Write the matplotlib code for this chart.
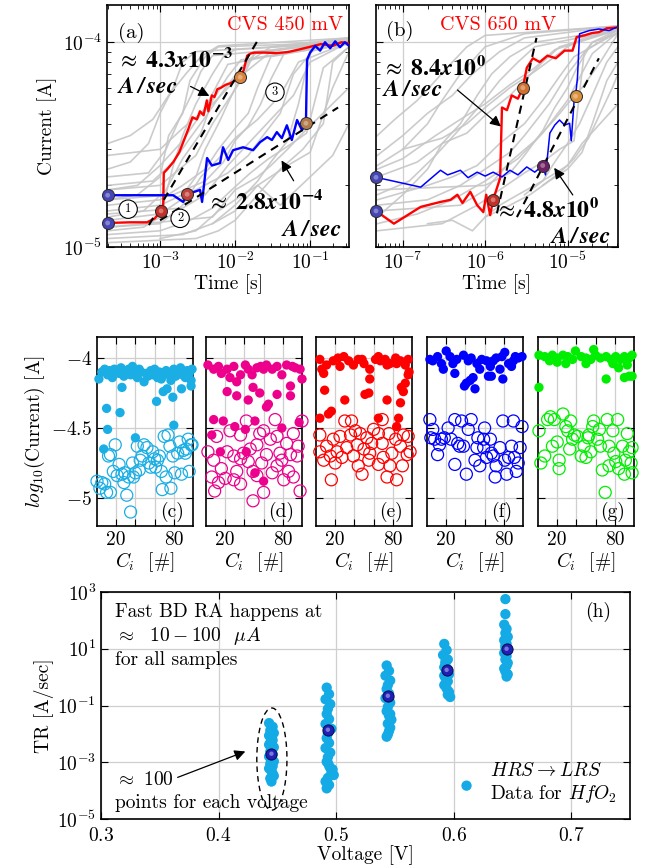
import matplotlib
matplotlib.use('Agg')
import matplotlib.pyplot as plt
from matplotlib.patches import Ellipse
import numpy as np

plt.rcParams['font.family'] = ['cmr10', 'DejaVu Serif']
plt.rcParams['mathtext.fontset'] = 'cm'
plt.rcParams['axes.formatter.use_mathtext'] = True
plt.rcParams['axes.unicode_minus'] = False
plt.rcParams['axes.linewidth'] = 1.2

# ---------------- data: panel (a) CVS 450 mV ----------------
red_a_t = [2e-4, 4e-4, 6.7e-4, 8.5e-4, 1.03e-3, 1.1e-3, 1.12e-3, 1.25e-3, 1.5e-3, 1.8e-3, 2.0e-3, 2.4e-3,
           2.7e-3, 3.1e-3, 3.4e-3, 3.8e-3, 4.2e-3, 4.4e-3, 4.9e-3, 5.3e-3, 5.8e-3, 6.5e-3, 7.5e-3, 8.6e-3,
           1.0e-2, 1.17e-2, 1.3e-2, 1.45e-2, 1.6e-2, 1.8e-2, 2.5e-2, 3.5e-2, 5e-2, 7e-2, 0.1, 0.14, 0.2, 0.26, 0.33]
red_a_i = [1.31e-5, 1.32e-5, 1.32e-5, 1.38e-5, 1.5e-5, 1.6e-5, 2.3e-5, 2.4e-5, 2.6e-5, 2.9e-5, 3.2e-5, 3.8e-5,
           4.3e-5, 4.2e-5, 4.6e-5, 4.4e-5, 5.2e-5, 4.6e-5, 5.5e-5, 5.4e-5, 5.9e-5, 6.0e-5, 6.2e-5, 6.3e-5,
           6.5e-5, 6.75e-5, 7.3e-5, 8.6e-5, 8.8e-5, 8.9e-5, 8.9e-5, 8.85e-5, 8.95e-5, 9.2e-5, 9.5e-5, 9.8e-5,
           9.6e-5, 1.0e-4, 9.9e-5]
blue_a_t = [2e-4, 1.49e-3, 2.03e-3, 2.29e-3, 3.41e-3, 3.63e-3, 4.23e-3, 4.9e-3, 6.3e-3, 6.9e-3, 8.1e-3, 9.4e-3,
            1.28e-2, 1.74e-2, 2.15e-2, 2.68e-2, 3.1e-2, 3.6e-2, 4.2e-2, 4.9e-2, 5.7e-2, 6.7e-2, 7.8e-2, 8.8e-2,
            9.1e-2, 0.1, 0.117, 0.136, 0.158, 0.185, 0.216, 0.25, 0.29, 0.33]
blue_a_i = [1.79e-5, 1.79e-5, 1.66e-5, 1.81e-5, 1.9e-5, 1.66e-5, 2.72e-5, 2.5e-5, 2.57e-5, 3.07e-5, 2.66e-5, 2.97e-5,
            3.07e-5, 2.97e-5, 3.25e-5, 3.44e-5, 3.33e-5, 3.64e-5, 3.4e-5, 3.93e-5, 3.33e-5, 4.17e-5, 3.72e-5, 4.02e-5,
            8.2e-5, 8.9e-5, 9.6e-5, 9.1e-5, 1.0e-4, 9.35e-5, 1.01e-4, 9.45e-5, 1.0e-4, 9.6e-5]
gray_a_t = [
    [2e-4, 6e-4, 1e-3, 1.5e-3, 2e-3, 3e-3, 5e-3, 7e-3, 1e-2, 0.33],
    [2e-4, 1e-3, 2e-3, 3e-3, 4e-3, 6e-3, 9e-3, 1.5e-2, 3e-2, 0.33],
    [2e-4, 5e-4, 1e-3, 1.3e-3, 2e-3, 2.5e-3, 4e-3, 6e-3, 0.33],
    [2e-4, 2e-3, 5e-3, 1e-2, 2e-2, 3e-2, 5e-2, 7e-2, 0.1, 0.33],
    [2e-4, 1e-3, 3e-3, 8e-3, 1.5e-2, 2.5e-2, 4e-2, 6e-2, 0.12, 0.33],
    [2e-4, 8e-4, 1.5e-3, 2.5e-3, 4e-3, 7e-3, 1.2e-2, 2e-2, 0.33],
    [2e-4, 3e-3, 6e-3, 1e-2, 2e-2, 4e-2, 8e-2, 0.15, 0.2, 0.33],
    [2e-4, 4e-4, 7e-4, 1e-3, 1.5e-3, 2e-3, 3e-3, 0.33],
    [2e-4, 1e-3, 2e-3, 4e-3, 6e-3, 1e-2, 1.5e-2, 2e-2, 3e-2, 0.33],
    [2e-4, 5e-3, 1e-2, 2e-2, 3e-2, 5e-2, 8e-2, 0.33],
    [2e-4, 1e-3, 3e-3, 5e-3, 8e-3, 1.2e-2, 1.8e-2, 0.33],
    [2e-4, 2e-3, 4e-3, 8e-3, 1.5e-2, 3e-2, 6e-2, 0.1, 0.33],
    [5e-3, 1e-2, 2e-2, 4e-2, 0.1, 0.2, 0.33],
    [2e-4, 1e-3, 2e-3, 5e-3, 1e-2, 0.03, 0.33],
    [2e-4, 6e-4, 1.2e-3, 2e-3, 3.5e-3, 5e-3, 8e-3, 1.2e-2, 0.33],
    [2e-4, 1.5e-3, 4e-3, 7e-3, 1e-2, 1.5e-2, 2.2e-2, 3e-2, 4.5e-2, 0.33],
    [2e-4, 7e-4, 1.2e-3, 1.8e-3, 2.6e-3, 3.5e-3, 5e-3, 0.33],
    [2e-4, 1e-3, 2.5e-3, 5e-3, 9e-3, 1.6e-2, 2.8e-2, 5e-2, 9e-2, 0.15, 0.33],
    [2e-4, 4e-4, 8e-4, 1.3e-3, 2.2e-3, 3.5e-3, 6e-3, 0.33],
    [2e-4, 1e-3, 2e-3, 3.5e-3, 6e-3, 1e-2, 2e-2, 4e-2, 7e-2, 0.33],
    [1e-3, 3e-3, 6e-3, 1e-2, 2e-2, 5e-2, 0.1, 0.2, 0.33],
    [2e-4, 5e-4, 1e-3, 2e-3, 4e-3, 8e-3, 0.33],
]
gray_a_i = [
    [1.2e-5, 1.25e-5, 1.4e-5, 2.5e-5, 3.5e-5, 5e-5, 7e-5, 8.5e-5, 9.2e-5, 1.0e-4],
    [1.5e-5, 1.6e-5, 1.8e-5, 2.2e-5, 3e-5, 4e-5, 5.5e-5, 8e-5, 9.5e-5, 1.05e-4],
    [1.7e-5, 1.8e-5, 2.2e-5, 3.5e-5, 4.5e-5, 6.5e-5, 8.5e-5, 9.5e-5, 1.0e-4],
    [1.1e-5, 1.15e-5, 1.3e-5, 1.6e-5, 2.1e-5, 2.6e-5, 3.3e-5, 5e-5, 9e-5, 1e-4],
    [1.35e-5, 1.45e-5, 1.9e-5, 2.3e-5, 2.8e-5, 3.6e-5, 4.5e-5, 7e-5, 9.5e-5, 1.02e-4],
    [2.0e-5, 2.1e-5, 2.6e-5, 3.4e-5, 4.3e-5, 5.8e-5, 7.5e-5, 9e-5, 1.02e-4],
    [1.05e-5, 1.1e-5, 1.2e-5, 1.35e-5, 1.8e-5, 2.4e-5, 3e-5, 4e-5, 8e-5, 9.5e-5],
    [2.4e-5, 2.6e-5, 3.2e-5, 4.5e-5, 6e-5, 8e-5, 9e-5, 1.0e-4],
    [1.6e-5, 1.7e-5, 2e-5, 2.4e-5, 3e-5, 3.8e-5, 4.5e-5, 6e-5, 8.5e-5, 1e-4],
    [1.25e-5, 1.4e-5, 1.9e-5, 2.2e-5, 2.5e-5, 3e-5, 3.6e-5, 6e-5],
    [1.9e-5, 2.0e-5, 2.8e-5, 4e-5, 5.2e-5, 6.5e-5, 8.8e-5, 1.04e-4],
    [1.45e-5, 1.55e-5, 1.8e-5, 2.5e-5, 3.2e-5, 4.2e-5, 5.5e-5, 8e-5, 1.0e-4],
    [1.3e-5, 1.5e-5, 2e-5, 1.6e-5, 2.2e-5, 2.8e-5, 4e-5],
    [2.8e-5, 3.0e-5, 3.8e-5, 5e-5, 6.5e-5, 9e-5, 1.05e-4],
    [1.4e-5, 1.5e-5, 1.9e-5, 2.7e-5, 3.6e-5, 5.2e-5, 6.8e-5, 8.2e-5, 9.8e-5],
    [1.7e-5, 1.8e-5, 2.1e-5, 2.6e-5, 3.3e-5, 3.9e-5, 5e-5, 6.6e-5, 8.8e-5, 1.03e-4],
    [2.2e-5, 2.3e-5, 3e-5, 4.2e-5, 5.5e-5, 7.2e-5, 8.6e-5, 9.9e-5],
    [1.15e-5, 1.2e-5, 1.35e-5, 1.55e-5, 1.9e-5, 2.3e-5, 2.7e-5, 3.1e-5, 3.6e-5, 7.5e-5, 9.5e-5],
    [3.2e-5, 3.5e-5, 4.2e-5, 5.5e-5, 7e-5, 8.5e-5, 9.6e-5, 1.05e-4],
    [1.25e-5, 1.3e-5, 1.6e-5, 2.2e-5, 2.7e-5, 3.4e-5, 4.2e-5, 5.5e-5, 8e-5, 1.0e-4],
    [1.1e-5, 1.2e-5, 1.5e-5, 1.7e-5, 2.0e-5, 2.5e-5, 2.9e-5, 6e-5, 9e-5],
    [1.9e-5, 2.0e-5, 2.5e-5, 3.3e-5, 4.8e-5, 7.8e-5, 1.02e-4],
]
dash_a1_t = [7.1e-4, 2.0e-2]
dash_a1_i = [1.28e-5, 1.02e-4]
dash_a2_t = [1.0e-3, 0.236]
dash_a2_i = [1.35e-5, 4.8e-5]
sph_a_t = [2e-4, 2e-4, 1.03e-3, 2.29e-3, 1.17e-2, 8.8e-2]
sph_a_i = [1.31e-5, 1.79e-5, 1.5e-5, 1.81e-5, 6.75e-5, 4.02e-5]
sph_a_c = ['#4545b5', '#4545b5', '#c23028', '#c0413a', '#d9843c', '#b27a4a']

# ---------------- data: panel (b) CVS 650 mV ----------------
red_b_t = [4.73e-8, 7.8e-8, 1.65e-7, 2.87e-7, 3.8e-7, 4.6e-7, 5.3e-7, 6.6e-7, 8.0e-7, 9.5e-7, 1.03e-6, 1.15e-6,
           1.25e-6, 1.52e-6, 1.6e-6, 1.84e-6, 2.1e-6, 2.5e-6, 2.87e-6, 3.2e-6, 3.8e-6, 4.6e-6, 5.7e-6, 7.2e-6,
           9.2e-6, 1.15e-5, 1.29e-5, 1.6e-5, 2.0e-5, 2.4e-5, 3.0e-5, 3.9e-5]
red_b_i = [1.5e-5, 1.3e-5, 1.57e-5, 1.66e-5, 1.7e-5, 1.8e-5, 1.64e-5, 1.86e-5, 1.6e-5, 1.48e-5, 1.8e-5, 1.43e-5,
           1.7e-5, 2.17e-5, 4.8e-5, 4.66e-5, 5.5e-5, 5.3e-5, 6.0e-5, 7.5e-5, 8.35e-5, 8.0e-5, 8.6e-5, 8.35e-5,
           9.1e-5, 9.1e-5, 1.06e-4, 1.08e-4, 1.11e-4, 1.12e-4, 1.17e-4, 1.18e-4]
blue_b_t = [4.73e-8, 1.65e-7, 2.87e-7, 3.5e-7, 4.1e-7, 5.0e-7, 6.2e-7, 8.0e-7, 1e-6, 1.25e-6, 1.6e-6, 2.0e-6,
            2.5e-6, 3.2e-6, 4.0e-6, 5.0e-6, 5.4e-6, 5.7e-6, 6.1e-6, 7.0e-6, 8.0e-6, 9.2e-6, 1.06e-5, 1.11e-5,
            1.21e-5, 1.25e-5, 1.32e-5, 1.4e-5, 1.84e-5, 2.4e-5, 3.2e-5, 3.9e-5]
blue_b_i = [2.19e-5, 1.96e-5, 2.37e-5, 2.25e-5, 2.3e-5, 2.37e-5, 2.18e-5, 2.32e-5, 2.22e-5, 2.32e-5, 2.2e-5, 2.37e-5,
            2.25e-5, 2.46e-5, 2.32e-5, 2.5e-5, 2.25e-5, 2.75e-5, 3.6e-5, 3.94e-5, 4.17e-5, 3.94e-5, 4.02e-5, 3.3e-5,
            5.4e-5, 5.45e-5, 6.7e-5, 1.1e-4, 1.14e-4, 1.16e-4, 1.14e-4, 1.18e-4]
gray_b_t = [
    [4.9e-8, 1e-7, 2e-7, 3e-7, 5e-7, 8e-7, 1.2e-6, 2e-6, 4e-6, 4.1e-5],
    [4.9e-8, 1.5e-7, 3e-7, 6e-7, 1e-6, 2e-6, 3e-6, 5e-6, 8e-6, 4.1e-5],
    [4.9e-8, 2e-7, 5e-7, 1e-6, 2e-6, 3e-6, 6e-6, 1e-5, 2e-5, 4.1e-5],
    [4.9e-8, 3e-7, 8e-7, 1.5e-6, 3e-6, 5e-6, 8e-6, 1.2e-5, 1.6e-5, 4.1e-5],
    [4.9e-8, 1e-7, 2e-7, 4e-7, 7e-7, 1.5e-6, 3e-6, 4.1e-5],
    [4.9e-8, 5e-7, 1e-6, 2e-6, 4e-6, 7e-6, 1e-5, 1.5e-5, 2.5e-5, 4.1e-5],
    [2e-7, 4e-7, 7e-7, 1e-6, 1.5e-6, 2.5e-6, 4e-6, 6e-6, 1e-5, 1.5e-5, 4.1e-5],
    [4.9e-8, 1e-6, 2e-6, 3e-6, 5e-6, 7e-6, 1e-5, 1.3e-5, 2e-5, 4.1e-5],
    [1e-7, 3e-7, 6e-7, 1e-6, 2e-6, 4e-6, 7e-6, 1e-5, 1.6e-5, 4.1e-5],
    [5e-6, 8e-6, 1.2e-5, 1.8e-5, 2.5e-5, 3.5e-5, 4.1e-5],
    [4.9e-8, 1.2e-7, 2.5e-7, 5e-7, 9e-7, 1.5e-6, 2.5e-6, 4e-6, 4.1e-5],
    [4.9e-8, 1e-7, 2e-7, 3e-7, 5e-7, 1e-6, 3e-6, 4.1e-5],
    [4.9e-8, 8e-8, 1.5e-7, 2.5e-7, 4e-7, 6e-7, 1e-6, 4.1e-5],
    [4.9e-8, 2e-7, 4e-7, 8e-7, 1.5e-6, 3e-6, 5e-6, 8e-6, 1.2e-5, 4.1e-5],
    [1e-6, 2e-6, 3.5e-6, 6e-6, 1e-5, 1.5e-5, 2e-5, 3e-5, 4.1e-5],
    [4.9e-8, 1e-7, 2.5e-7, 5e-7, 1e-6, 2e-6, 4e-6, 7e-6, 4.1e-5],
    [3e-6, 5e-6, 7e-6, 1e-5, 1.4e-5, 2e-5, 3e-5, 4.1e-5],
    [4.9e-8, 1.5e-7, 4e-7, 1e-6, 2.5e-6, 5e-6, 1e-5, 2e-5, 4.1e-5],
]
gray_b_i = [
    [1.4e-5, 1.8e-5, 2.4e-5, 3.2e-5, 4e-5, 5.5e-5, 7e-5, 8.5e-5, 1e-4, 1.15e-4],
    [2.2e-5, 2.6e-5, 3.2e-5, 3.6e-5, 4.4e-5, 5.5e-5, 6.5e-5, 8e-5, 9.5e-5, 1.15e-4],
    [1.6e-5, 1.7e-5, 2e-5, 2.4e-5, 2.9e-5, 3.5e-5, 5e-5, 7e-5, 1e-4, 1.1e-4],
    [1.2e-5, 1.3e-5, 1.6e-5, 1.9e-5, 2.3e-5, 2.6e-5, 3e-5, 3.3e-5, 9e-5, 1.15e-4],
    [2.8e-5, 3.5e-5, 4.5e-5, 5.5e-5, 7e-5, 9e-5, 1.05e-4, 1.2e-4],
    [1.5e-5, 1.6e-5, 1.9e-5, 2.6e-5, 3.3e-5, 4.2e-5, 5e-5, 6e-5, 8e-5, 1.1e-4],
    [1.3e-5, 1.35e-5, 1.2e-5, 1.4e-5, 1.6e-5, 1.8e-5, 2e-5, 2.2e-5, 2.5e-5, 3.2e-5, 5e-5],
    [1.9e-5, 2.0e-5, 2.3e-5, 2.8e-5, 3.7e-5, 4.8e-5, 6e-5, 7.5e-5, 1.0e-4, 1.15e-4],
    [3e-5, 3.4e-5, 4e-5, 4.8e-5, 6e-5, 7.2e-5, 8.5e-5, 9.5e-5, 1.05e-4, 1.15e-4],
    [2e-5, 2.3e-5, 2.7e-5, 3.4e-5, 4.5e-5, 6e-5, 7e-5],
    [1.8e-5, 2.1e-5, 2.8e-5, 3.8e-5, 5e-5, 6.5e-5, 8e-5, 9.5e-5, 1.15e-4],
    [2.5e-5, 3e-5, 4e-5, 5.2e-5, 7e-5, 9.5e-5, 1.1e-4, 1.2e-4],
    [3.5e-5, 4.2e-5, 5.2e-5, 6.5e-5, 8e-5, 9.5e-5, 1.08e-4, 1.2e-4],
    [1.7e-5, 2.0e-5, 2.2e-5, 2.5e-5, 3.2e-5, 4e-5, 5.2e-5, 6.8e-5, 8.5e-5, 1.12e-4],
    [1.4e-5, 1.6e-5, 1.8e-5, 2.1e-5, 2.4e-5, 2.9e-5, 4e-5, 6.5e-5, 8e-5],
    [2.4e-5, 2.7e-5, 3.5e-5, 4.2e-5, 5e-5, 6.2e-5, 7.5e-5, 9.2e-5, 1.15e-4],
    [1.8e-5, 2.1e-5, 2.6e-5, 3.2e-5, 4e-5, 5.5e-5, 8e-5, 9.5e-5],
    [1.3e-5, 1.45e-5, 1.7e-5, 2.1e-5, 2.7e-5, 3.6e-5, 5.2e-5, 8.8e-5, 1.12e-4],
]
dash_b1_t = [1.39e-6, 4.2e-6]
dash_b1_i = [1.46e-5, 1.05e-4]
dash_b2_t = [2.43e-6, 2.4e-5]
dash_b2_i = [1.4e-5, 8.35e-5]
sph_b_t = [4.73e-8, 4.73e-8, 1.25e-6, 2.87e-6, 5.0e-6, 1.25e-5]
sph_b_i = [1.5e-5, 2.19e-5, 1.7e-5, 6.0e-5, 2.5e-5, 5.45e-5]
sph_b_c = ['#4545b5', '#4545b5', '#c23028', '#d0702e', '#6e2263', '#d9903c']

# ---------------- data: panels (c)-(g) ----------------
c_fill_x = [2, 5, 8, 11, 13, 16, 18, 21, 23, 25, 28, 30, 33, 35, 37, 39, 42, 44, 46, 49, 51, 53, 56, 58, 60,
            63, 65, 67, 70, 72, 75, 77, 80, 82, 85, 87, 89, 92, 94, 96, 98, 99,
            10, 11, 7, 24, 26, 40, 62, 69, 73, 79, 80, 88, 98]
c_fill_y = [-4.15, -4.10, -4.08, -4.12, -4.09, -4.14, -4.08, -4.10, -4.11, -4.07, -4.13, -4.09, -4.08, -4.12,
            -4.06, -4.10, -4.14, -4.08, -4.10, -4.17, -4.11, -4.13, -4.09, -4.12, -4.08, -4.14, -4.10, -4.15,
            -4.12, -4.09, -4.11, -4.16, -4.08, -4.13, -4.10, -4.07, -4.12, -4.14, -4.09, -4.11, -4.16, -4.08,
            -4.36, -4.51, -4.65, -4.39, -4.21, -4.57, -4.31, -4.24, -4.22, -4.28, -4.48, -4.22, -4.20]
c_open_x = [0, 5, 10, 14, 8, 17, 19, 14, 23, 26, 28, 29, 31, 35, 37, 40, 42, 45, 49, 54, 58, 60, 63, 67, 68,
            70, 74, 76, 77, 81, 84, 88, 90, 93, 95, 96, 98, 3, 12, 21, 33, 47, 52, 56, 65, 72, 79, 86, 92, 99,
            44, 38, 61]
c_open_y = [-4.88, -4.89, -4.96, -4.96, -4.90, -4.81, -4.62, -4.69, -4.76, -4.83, -4.89, -4.82, -4.98, -5.10,
            -4.75, -4.82, -4.63, -4.73, -4.62, -4.75, -4.67, -4.72, -4.73, -4.81, -4.94, -4.56, -4.55, -4.63,
            -4.93, -4.82, -4.68, -4.83, -4.66, -4.65, -4.58, -4.81, -4.62, -4.93, -4.70, -4.84, -4.85, -4.70,
            -4.64, -4.78, -4.70, -4.85, -4.70, -4.60, -4.68, -4.62, -4.80, -4.85, -4.78]

d_fill_x = [2, 8, 13, 16, 22, 25, 29, 32, 36, 41, 44, 48, 53, 57, 60, 63, 69, 74, 79, 84, 90, 93, 98, 100,
            22, 32, 44, 49, 56, 63, 65, 74, 88, 88, 8, 18, 30, 41, 51, 79, 97, 6, 15, 42, 51, 60]
d_fill_y = [-4.05, -4.08, -4.06, -4.11, -4.08, -4.14, -4.06, -4.17, -4.12, -4.05, -4.08, -4.12, -4.07, -4.06,
            -4.08, -4.05, -4.08, -4.06, -4.12, -4.05, -4.06, -4.07, -4.08, -4.15,
            -4.24, -4.27, -4.30, -4.21, -4.25, -4.35, -4.33, -4.26, -4.27, -4.20, -4.44, -4.45, -4.49, -4.51,
            -4.45, -4.50, -4.46, -4.55, -4.67, -4.67, -4.82, -4.88]
d_open_x = [2, 6, 9, 13, 16, 22, 25, 29, 32, 36, 39, 42, 44, 49, 53, 56, 60, 63, 67, 69, 72, 74, 77, 81, 84,
            88, 91, 95, 98, 100, 11, 20, 36, 49, 58, 74, 86, 96, 8, 29, 46, 60, 79, 91, 36, 53]
d_open_y = [-4.67, -4.85, -4.95, -4.89, -4.79, -4.67, -4.52, -4.70, -4.81, -4.55, -4.68, -4.45, -4.74, -5.02,
            -4.62, -4.54, -4.96, -4.69, -4.58, -4.82, -4.44, -4.77, -4.68, -4.87, -4.61, -4.69, -4.54, -4.70,
            -4.95, -4.45, -4.56, -4.86, -4.90, -4.81, -4.75, -4.56, -4.81, -4.63, -4.73, -4.87, -4.65, -4.52,
            -4.73, -4.85, -4.72, -4.84]

e_fill_x = [4, 11, 18, 23, 29, 34, 39, 44, 50, 56, 62, 67, 72, 77, 83, 88, 93, 96, 6, 25, 48, 74, 84, 65,
            56, 96, 93, 89, 91, 88, 51, 55, 30, 74, 16, 13, 9, 8, 4, 65, 86, 84, 97]
e_fill_y = [-4.01, -4.05, -4.02, -4.00, -3.99, -4.02, -4.05, -4.01, -4.04, -4.08, -4.01, -4.02, -4.01, -4.04,
            -4.00, -4.02, -4.05, -4.01, -4.08, -4.06, -4.01, -4.05, -4.04, -3.99,
            -4.15, -4.12, -4.18, -4.21, -4.24, -4.32, -4.26, -4.25, -4.30, -4.30, -4.38, -4.40, -4.23, -4.11,
            -4.43, -4.43, -4.43, -4.49, -4.10]
e_open_x = [4, 11, 15, 18, 22, 25, 30, 32, 36, 39, 43, 46, 48, 50, 53, 56, 60, 65, 69, 74, 76, 79, 84, 88,
            91, 95, 98, 16, 65, 77, 8, 20, 37, 55, 83, 96, 44, 27, 70, 90, 4, 41, 58, 69]
e_open_y = [-4.55, -4.63, -4.70, -4.58, -4.67, -4.56, -4.45, -4.64, -4.55, -4.70, -4.62, -4.54, -4.83, -4.65,
            -4.57, -4.68, -4.51, -4.76, -4.61, -4.85, -4.54, -4.68, -4.87, -4.63, -4.55, -4.69, -4.67, -4.87,
            -4.54, -4.77, -4.73, -4.75, -4.45, -4.73, -4.58, -4.56, -4.77, -4.71, -4.71, -4.77, -4.67, -4.52,
            -4.61, -4.44]

f_fill_x = [3, 6, 11, 15, 20, 24, 27, 31, 38, 43, 46, 52, 57, 62, 66, 69, 72, 78, 81, 85, 90, 95, 99, 17, 29,
            55, 67, 76, 88, 92, 39, 45, 50, 41, 79, 64, 48]
f_fill_y = [-4.01, -4.02, -3.99, -4.04, -3.95, -3.99, -4.04, -4.01, -3.98, -4.02, -4.00, -4.04, -4.01, -4.02,
            -4.06, -4.02, -4.00, -3.99, -3.96, -4.04, -4.02, -4.00, -3.99, -4.08, -4.11, -4.08, -4.13, -4.08,
            -4.06, -3.99, -4.20, -4.16, -4.22, -4.18, -4.15, -4.13, -4.14]
f_open_x = [3, 6, 4, 11, 13, 18, 22, 25, 29, 29, 32, 36, 38, 41, 43, 46, 50, 53, 55, 59, 60, 62, 66, 67, 71,
            72, 76, 79, 83, 85, 88, 90, 93, 95, 97, 99, 8, 15, 34, 52, 69, 81, 91, 59]
f_open_y = [-4.44, -4.51, -4.57, -4.69, -4.62, -4.57, -4.50, -4.58, -4.44, -4.76, -4.61, -4.45, -4.63, -4.83,
            -4.51, -4.44, -4.73, -4.57, -4.77, -4.64, -4.50, -4.71, -4.58, -4.68, -4.85, -4.77, -4.64, -4.45,
            -4.83, -4.71, -4.63, -4.45, -4.81, -4.75, -4.64, -4.49, -4.58, -4.58, -4.63, -4.64, -4.70, -4.73,
            -4.71, -4.58]

g_fill_x = [1, 7, 12, 15, 20, 26, 31, 36, 39, 45, 50, 55, 58, 60, 65, 71, 76, 81, 86, 90, 95, 98, 20, 29,
            50, 78, 84, 93, 1, 71, 90, 95, 98]
g_fill_y = [-3.98, -3.99, -4.02, -3.98, -4.00, -3.98, -3.99, -4.01, -3.95, -3.99, -4.00, -4.01, -3.94, -3.98,
            -4.00, -3.99, -4.01, -3.99, -4.01, -3.99, -4.00, -3.98, -4.03, -4.04, -4.04, -4.04, -4.07, -4.05,
            -4.21, -4.15, -4.14, -4.13, -4.13]
g_open_x = [1, 3, 7, 10, 13, 17, 20, 22, 26, 29, 33, 34, 38, 41, 45, 48, 50, 52, 53, 57, 58, 62, 64, 67, 70,
            72, 74, 78, 79, 83, 84, 88, 90, 93, 95, 97, 98, 98, 22, 36, 55, 65, 74, 81, 91, 15, 31]
g_open_y = [-4.52, -4.75, -4.70, -4.44, -4.42, -4.44, -4.60, -4.73, -4.40, -4.49, -4.65, -4.45, -4.55, -4.56,
            -4.70, -4.63, -4.71, -4.57, -4.55, -4.49, -4.45, -4.58, -4.51, -4.80, -4.96, -4.44, -4.63, -4.52,
            -4.68, -4.44, -4.79, -4.63, -4.83, -4.54, -4.67, -4.75, -4.64, -4.82, -4.79, -4.58, -4.67, -4.63,
            -4.77, -4.74, -4.73, -4.63, -4.52]

# ---------------- data: panel (h) ----------------
h_x = [0.443, 0.446, 0.444, 0.447, 0.443, 0.445, 0.446, 0.444, 0.443, 0.447, 0.445, 0.444, 0.446, 0.443,
       0.445, 0.447, 0.444, 0.446, 0.443, 0.445, 0.446, 0.447, 0.444, 0.445,
       0.492, 0.494, 0.491, 0.495, 0.493, 0.492, 0.494, 0.491, 0.496, 0.493, 0.492, 0.494, 0.491, 0.495,
       0.493, 0.492, 0.494, 0.497, 0.496, 0.498, 0.493, 0.491, 0.494, 0.492, 0.495, 0.493,
       0.543, 0.545, 0.542, 0.546, 0.544, 0.543, 0.545, 0.542, 0.546, 0.544, 0.543, 0.545, 0.547, 0.544,
       0.546, 0.545, 0.544, 0.543, 0.546, 0.545,
       0.592, 0.594, 0.591, 0.595, 0.593, 0.592, 0.594, 0.596, 0.593, 0.595, 0.592, 0.594, 0.596, 0.595,
       0.597, 0.593, 0.592,
       0.644, 0.644, 0.643, 0.645, 0.644, 0.646, 0.643, 0.645, 0.644, 0.646, 0.643, 0.645, 0.644, 0.646,
       0.645, 0.643, 0.644, 0.646, 0.645, 0.644]
h_logtr = [-1.62, -1.75, -1.88, -1.97, -2.06, -2.14, -2.22, -2.31, -2.38, -2.47, -2.55, -2.63, -2.72, -2.80,
           -2.88, -2.97, -3.05, -3.14, -3.22, -3.31, -3.40, -3.48, -3.57, -3.68,
           -0.37, -0.60, -0.78, -0.95, -1.12, -1.30, -1.48, -1.65, -1.82, -1.98, -2.15, -2.32, -2.50, -2.66,
           -2.82, -2.98, -3.12, -3.25, -3.38, -3.45, -3.55, -3.68, -3.80, -3.92, -3.20, -3.02,
           0.41, 0.22, 0.05, -0.12, -0.28, -0.42, -0.58, -0.74, -0.90, -1.05, -1.20, -1.36, -1.50, -1.64,
           -1.78, -1.90, -2.02, -2.10, -1.30, -0.75,
           1.17, 0.95, 0.78, 0.62, 0.48, 0.35, 0.22, 0.10, -0.02, -0.15, -0.28, -0.40, -0.52, -0.62, -0.70,
           0.55, 0.05,
           2.75, 2.22, 1.85, 1.70, 1.55, 1.42, 1.30, 1.18, 1.05, 0.95, 0.85, 0.74, 0.62, 0.50, 0.40, 0.30,
           0.20, 0.10, 0.02, 1.12]
h_mean_v = [0.445, 0.493, 0.544, 0.594, 0.645]
h_mean_tr = [2.0e-3, 1.4e-2, 0.22, 1.8, 10.0]

# ---------------- layout ----------------
W, H = 648, 867
fig = plt.figure(figsize=(W / 100, H / 100), dpi=100)


def box(l, t, r, b):
    return [l / W, 1 - b / H, (r - l) / W, (b - t) / H]


GRID = '#cfcfcf'
FS = 14


def style(ax, fs=FS):
    ax.tick_params(which='both', direction='in', top=True, right=True, labelsize=fs, colors='black')
    ax.tick_params(which='major', length=5, width=0.8)
    ax.tick_params(which='minor', length=3, width=0.6)
    ax.grid(True, which='major', color=GRID, lw=0.9)
    ax.set_axisbelow(True)


def sphere(ax, t, i, cols):
    for tt, ii, cc in zip(t, i, cols):
        ax.scatter([tt], [ii], s=75, color=cc, edgecolors='#2a2a2a', linewidths=0.7, zorder=8, clip_on=False)
        ax.scatter([tt], [ii], s=12, color='white', alpha=0.35, edgecolors='none', zorder=9, clip_on=False)


bold_kw = dict(fontsize=17, color='black', zorder=10, math_fontfamily='stix')
arrow_kw = dict(arrowstyle='-|>', color='black', lw=0.9, mutation_scale=16)
GRAY = '#c6c6c6'

# panel (a)
axa = fig.add_axes(box(107, 5, 349, 247))
style(axa)
axa.set_xscale('log')
axa.set_yscale('log')
for tt, ii in zip(gray_a_t, gray_a_i):
    axa.plot(tt, ii, color=GRAY, lw=1.2, alpha=0.9, zorder=2)
axa.plot(red_a_t, red_a_i, color='#ff0000', lw=1.7, zorder=4)
axa.plot(blue_a_t, blue_a_i, color='#0000ff', lw=1.7, zorder=4)
axa.plot(dash_a1_t, dash_a1_i, color='black', ls=(0, (4, 3)), lw=1.5, zorder=5)
axa.plot(dash_a2_t, dash_a2_i, color='black', ls=(0, (4, 3)), lw=1.5, zorder=5)
sphere(axa, sph_a_t, sph_a_i, sph_a_c)
axa.set_xlim(1.96e-4, 0.33)
axa.set_ylim(1e-5, 1.52e-4)
axa.set_xticks([1e-3, 1e-2, 1e-1])
axa.set_yticks([1e-5, 1e-4])
axa.set_xlabel('Time [s]', fontsize=FS, labelpad=1)
axa.set_ylabel('Current [A]', fontsize=FS, labelpad=4)
axa.text(0.045, 0.885, '(a)', transform=axa.transAxes, fontsize=15, ha='left', va='center')
axa.text(0.975, 0.917, 'CVS 450 mV', transform=axa.transAxes, fontsize=14.5, ha='right', va='center', color='#ff0000')
axa.text(2.67e-4, 8.17e-5, r'$\approx\ \mathbf{4.3}\mathbfit{x}\mathbf{10^{-3}}$', ha='left', va='center', **bold_kw)
axa.text(2.67e-4, 6.04e-5, r'$\mathbfit{A\,/\,sec}$', ha='left', va='center', **bold_kw)
axa.annotate('', xy=(4.9e-3, 5.39e-5), xytext=(2.36e-3, 6.17e-5), arrowprops=arrow_kw, zorder=10)
axa.text(4.2e-3, 1.66e-5, r'$\approx\ \mathbf{2.8}\mathbfit{x}\mathbf{10^{-4}}$', ha='left', va='center', **bold_kw)
axa.text(0.26, 1.21e-5, r'$\mathbfit{A\,/\,sec}$', ha='right', va='center', **bold_kw)
axa.annotate('', xy=(3.98e-2, 2.72e-5), xytext=(6.3e-2, 2.05e-5), arrowprops=arrow_kw, zorder=10)
for lab, tt, ii in [('1', 3.75e-4, 1.53e-5), ('2', 1.85e-3, 1.38e-5), ('3', 3.4e-2, 5.7e-5)]:
    axa.text(tt, ii, lab, fontsize=9, ha='center', va='center', zorder=10,
             bbox=dict(boxstyle='circle,pad=0.25', fc='white', ec='black', lw=0.8))

# panel (b)
axb = fig.add_axes(box(376, 5, 618, 247))
style(axb)
axb.set_xscale('log')
axb.set_yscale('log')
for tt, ii in zip(gray_b_t, gray_b_i):
    axb.plot(tt, ii, color=GRAY, lw=1.2, alpha=0.9, zorder=2)
axb.plot(red_b_t, red_b_i, color='#ff0000', lw=1.7, zorder=4)
axb.plot(blue_b_t, blue_b_i, color='#0000ff', lw=1.1, zorder=4)
axb.plot(dash_b1_t, dash_b1_i, color='black', ls=(0, (4, 3)), lw=1.5, zorder=5)
axb.plot(dash_b2_t, dash_b2_i, color='black', ls=(0, (4, 3)), lw=1.5, zorder=5)
sphere(axb, sph_b_t, sph_b_i, sph_b_c)
axb.set_xlim(4.73e-8, 4.1e-5)
axb.set_ylim(1e-5, 1.52e-4)
axb.set_xticks([1e-7, 1e-6, 1e-5])
axb.set_yticks([1e-5, 1e-4])
axb.tick_params(labelleft=False)
axb.set_xlabel('Time [s]', fontsize=FS, labelpad=1)
axb.text(0.04, 0.893, '(b)', transform=axb.transAxes, fontsize=15, ha='left', va='center')
axb.text(0.504, 0.917, 'CVS 650 mV', transform=axb.transAxes, fontsize=14.5, ha='center', va='center', color='#ff0000')
axb.text(5.6e-8, 7.47e-5, r'$\approx\ \mathbf{8.4}\mathbfit{x}\mathbf{10^{0}}$', ha='left', va='center', **bold_kw)
axb.text(5.6e-8, 5.83e-5, r'$\mathbfit{A\,/\,sec}$', ha='left', va='center', **bold_kw)
axb.annotate('', xy=(1.65e-6, 3.8e-5), xytext=(4.35e-7, 5.96e-5), arrowprops=arrow_kw, zorder=10)
axb.text(1.3e-6, 1.52e-5, r'$\approx\ \mathbf{4.8}\mathbfit{x}\mathbf{10^{0}}$', ha='left', va='center', **bold_kw)
axb.text(3.3e-5, 1.12e-5, r'$\mathbfit{A\,/\,sec}$', ha='right', va='center', **bold_kw)
axb.annotate('', xy=(6.6e-6, 2.5e-5), xytext=(1.21e-5, 1.75e-5), arrowprops=arrow_kw, zorder=10)

# panels (c)-(g)
mid = [('(c)', '#1aaee5', c_fill_x, c_fill_y, c_open_x, c_open_y),
       ('(d)', '#ec008c', d_fill_x, d_fill_y, d_open_x, d_open_y),
       ('(e)', '#ff0000', e_fill_x, e_fill_y, e_open_x, e_open_y),
       ('(f)', '#0000ff', f_fill_x, f_fill_y, f_open_x, f_open_y),
       ('(g)', '#00ee00', g_fill_x, g_fill_y, g_open_x, g_open_y)]
lefts = [97, 206, 316, 427, 538]
for k, (lab, col, fx, fy, ox, oy) in enumerate(mid):
    ax = fig.add_axes(box(lefts[k], 337, lefts[k] + 96, 526))
    style(ax)
    ax.scatter(ox, oy, s=75, facecolors='none', edgecolors=col, linewidths=0.9, zorder=3, clip_on=False)
    ax.scatter(fx, fy, s=45, color=col, edgecolors='none', zorder=4, clip_on=False)
    ax.set_xlim(0, 100)
    ax.set_ylim(-5.2, -3.85)
    ax.set_xticks([20, 40, 60, 80])
    ax.set_xticklabels(['20', '', '', '80'])
    ax.set_yticks([-5, -4.5, -4])
    ax.set_xlabel(r'$C_i$  [#]', fontsize=FS, labelpad=1)
    ax.text(0.78, 0.075, lab, transform=ax.transAxes, fontsize=FS, ha='center', va='center')
    if k == 0:
        ax.set_yticklabels([r'$-5$', r'$-4.5$', r'$-4$'])
        ax.set_ylabel(r'$log_{10}$(Current) [A]', fontsize=FS, labelpad=3)
    else:
        ax.tick_params(labelleft=False)

# panel (h)
axh = fig.add_axes(box(101, 592, 630, 819))
style(axh)
axh.tick_params(axis='x', pad=6)
axh.set_yscale('log')
hs = axh.scatter(h_x, np.power(10.0, h_logtr), s=55, color='#13aae6', edgecolors='none', zorder=3)
axh.scatter(h_mean_v, h_mean_tr, s=65, color='#2020b8', edgecolors='#0a0a50', linewidths=0.7, zorder=5)
axh.scatter(h_mean_v, h_mean_tr, s=10, color='white', alpha=0.4, edgecolors='none', zorder=6)
axh.set_xlim(0.3, 0.75)
axh.set_ylim(1e-5, 1e3)
axh.set_xticks([0.3, 0.4, 0.5, 0.6, 0.7])
axh.set_yticks([1e-5, 1e-3, 1e-1, 1e1, 1e3])
axh.minorticks_off()
axh.set_xlabel('Voltage [V]', fontsize=FS, labelpad=0)
axh.set_ylabel('TR [A/sec]', fontsize=FS, labelpad=2)
axh.text(0.027, 0.912, 'Fast BD RA happens at', transform=axh.transAxes, fontsize=FS, ha='left', va='center')
axh.text(0.027, 0.806, r'$\approx$  $10-100$  $\mu A$', transform=axh.transAxes, fontsize=FS, ha='left', va='center')
axh.text(0.027, 0.70, 'for all samples', transform=axh.transAxes, fontsize=FS, ha='left', va='center')
axh.text(0.94, 0.912, '(h)', transform=axh.transAxes, fontsize=FS, ha='center', va='center')
axh.text(0.027, 0.172, r'$\approx$ 100', transform=axh.transAxes, fontsize=FS, ha='left', va='center')
axh.text(0.027, 0.07, 'points for each voltage', transform=axh.transAxes, fontsize=FS, ha='left', va='center')
axh.annotate('', xy=(0.425, 2.6e-3), xytext=(0.363, 2.7e-4), arrowprops=arrow_kw, zorder=10)
axh.add_patch(Ellipse((0.323, 0.264), 0.057, 0.45, transform=axh.transAxes, fill=False,
                      ls=(0, (4, 3)), lw=1.0, ec='black', zorder=6))
axh.legend([hs], ['$HRS \\rightarrow LRS$\nData for $HfO_2$'], loc='lower right', frameon=False,
           fontsize=FS, handletextpad=0.2, borderaxespad=0.3, markerscale=1.0)

fig.savefig('out.png', dpi=100)
